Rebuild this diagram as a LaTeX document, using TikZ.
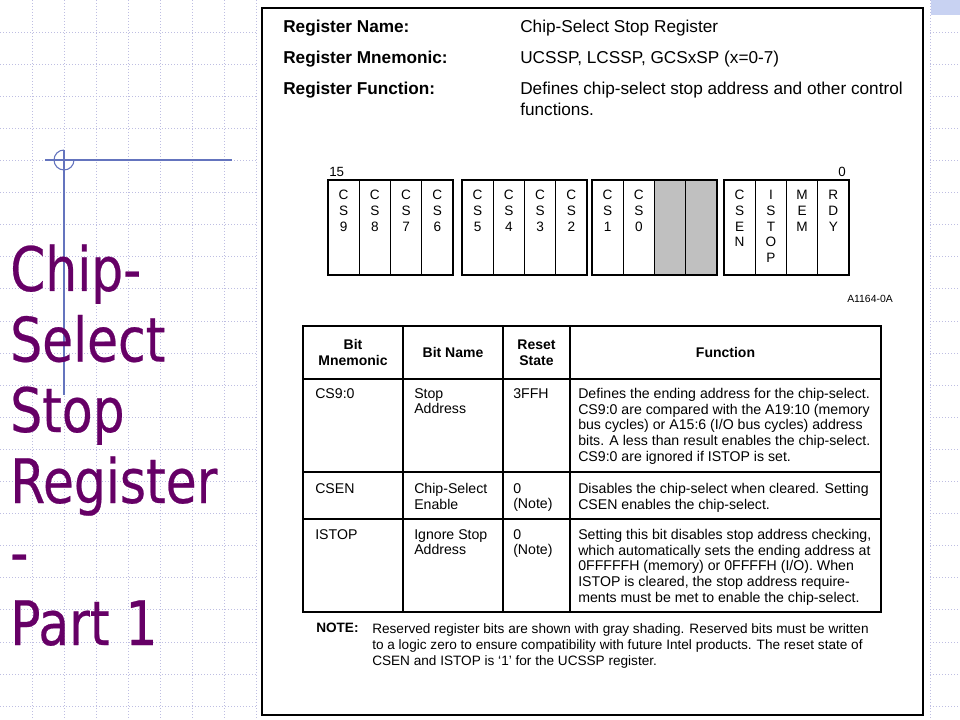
\documentclass[tikz,border=0pt]{standalone}
\usepackage{fontspec}
\setmainfont{Liberation Sans}
\newfontfamily\titlefont[FakeStretch=0.82,FakeBold=0.4]{DejaVu Sans}
\definecolor{gridc}{RGB}{190,190,226}
\definecolor{decob}{RGB}{100,116,190}
\definecolor{titlec}{RGB}{102,0,102}
\definecolor{resv}{RGB}{192,192,192}
\definecolor{patchc}{RGB}{200,210,242}
\begin{document}
\begin{tikzpicture}[x=0.75pt,y=-0.75pt,
  gridline/.style={draw=gridc, line width=0.75pt, dash pattern=on 0.75pt off 1.5pt},
  deco/.style={draw=decob, line width=0.8pt},
  titletxt/.style={font=\titlefont\fontsize{46}{53}\selectfont, text=titlec, anchor=base west, inner sep=0},
  hdrb/.style={font=\bfseries\fontsize{12.9}{15.8}\selectfont, anchor=base west, inner sep=0, align=left},
  hdr/.style={font=\fontsize{12.9}{15.8}\selectfont, anchor=base west, inner sep=0, align=left},
  bitl/.style={font=\fontsize{10.2}{11.8}\selectfont, align=center, anchor=north, inner sep=0},
  small/.style={font=\fontsize{10}{12}\selectfont, inner sep=0},
  grpbox/.style={draw=black, line width=1.5pt},
  celldiv/.style={draw=black, line width=0.9pt},
  tblline/.style={draw=black, line width=1.4pt},
  th/.style={font=\bfseries\fontsize{10.5}{12}\selectfont, align=center, inner sep=0},
  td/.style={font=\fontsize{10.6}{11.8}\selectfont, align=left, anchor=north west, inner sep=0},
  notetxt/.style={font=\fontsize{10.2}{12.2}\selectfont, align=left, anchor=north west, inner sep=0}
]
\useasboundingbox (0,0) rectangle (960,720);
% background grid
\foreach \k in {1,...,29} \draw[gridline] (32.1*\k,0) -- (32.1*\k,720);
\foreach \k in {1,...,22} \draw[gridline] (0,32.1*\k) -- (960,32.1*\k);
% white sheet and corner patch
\fill[white] (258,0) rectangle (930,720);
\fill[patchc] (931,0) rectangle (960,15);
% decoration lines
\draw[deco] (45,160) -- (232,160);
\draw[deco] (64,150) -- (64,395);
\draw[deco] (74,160) arc[start angle=0, end angle=270, radius=10];
% title
\node[titletxt] (t1) at (10,291) {Chip-};
\node[titletxt] (t2) at (10,361.5) {Select};
\node[titletxt] (t3) at (10,432) {Stop};
\node[titletxt] (t4) at (10,503) {Register};
\node[titletxt] (t5) at (10,574) {-};
\node[titletxt] (t6) at (10,645) {Part 1};
% panel
\draw[line width=1.5pt] (262,8) rectangle (923,715);
% header
\node[hdrb] (h1) at (283,33) {Register Name:};
\node[hdrb] (h2) at (283,64) {Register Mnemonic:};
\node[hdrb] (h3) at (283,95) {Register Function:};
\node[hdr] (v1) at (520,33) {Chip-Select Stop Register};
\node[hdr] (v2) at (520,64) {UCSSP, LCSSP, GCSxSP (x=0-7)};
\node[hdr] (v3) at (520,116) {Defines chip-select stop address and other control\\functions.};
% bit field
\fill[resv] (654.5,180) rectangle (716,275);
\foreach \gx in {328,462,592,724} {
  \foreach \j in {1,2,3} \draw[celldiv] (\gx+31.25*\j,180) -- (\gx+31.25*\j,275);
  \draw[grpbox] (\gx,180) rectangle (\gx+125,275);
}
\foreach \cx/\t [count=\i] in {343.6/{C\\S\\9}, 374.9/{C\\S\\8}, 406.1/{C\\S\\7}, 437.4/{C\\S\\6},
  477.6/{C\\S\\5}, 508.9/{C\\S\\4}, 540.1/{C\\S\\3}, 571.4/{C\\S\\2},
  607.6/{C\\S\\1}, 638.9/{C\\S\\0},
  739.6/{C\\S\\E\\N}, 770.9/{I\\S\\T\\O\\P}, 802.1/{M\\E\\M}, 833.4/{R\\D\\Y}}
  \node[bitl] (bit\i) at (\cx,190) {\t};
\node[small, anchor=base west] (b15) at (329,177) {15};
\node[small, anchor=base east] (b0) at (846,177) {0};
\node[font=\fontsize{7.8}{9}\selectfont, inner sep=0, anchor=base east] (fig) at (893,302) {A1164-0A};
% table
\draw[tblline] (303,326) rectangle (881,612);
\foreach \yy in {379,472,519} \draw[tblline] (303,\yy) -- (881,\yy);
\foreach \xx in {403,503,570} \draw[tblline] (\xx,326) -- (\xx,612);
\node[th] (th1) at (353,352.5) {Bit\\Mnemonic};
\node[th] (th2) at (453,352.5) {Bit Name};
\node[th] (th3) at (536.5,352.5) {Reset\\State};
\node[th] (th4) at (725.5,352.5) {Function};
% row 1
\node[td] (r1a) at (315,388) {CS9:0};
\node[td] (r1b) at (414,388) {Stop\\Address};
\node[td] (r1c) at (513,388) {3FFH};
\node[td] (r1d) at (578,388) {Defines the ending address for the chip-select.\\CS9:0 are compared with the A19:10 (memory\\bus cycles) or A15:6 (I/O bus cycles) address\\bits. A less than result enables the chip-select.\\CS9:0 are ignored if ISTOP is set.};
% row 2
\node[td] (r2a) at (315,483) {CSEN};
\node[td] (r2b) at (414,483) {Chip-Select\\Enable};
\node[td] (r2c) at (513,483) {0\\(Note)};
\node[td] (r2d) at (578,483) {Disables the chip-select when cleared. Setting\\CSEN enables the chip-select.};
% row 3
\node[td] (r3a) at (315,529) {ISTOP};
\node[td] (r3b) at (414,529) {Ignore Stop\\Address};
\node[td] (r3c) at (513,529) {0\\(Note)};
\node[td] (r3d) at (578,529) {Setting this bit disables stop address checking,\\which automatically sets the ending address at\\0FFFFFH (memory) or 0FFFFH (I/O). When\\ISTOP is cleared, the stop address require-\\ments must be met to enable the chip-select.};
% note
\node[notetxt, font=\bfseries\fontsize{10.2}{12.2}\selectfont] (nt) at (316,623) {NOTE:};
\node[notetxt] (nb) at (372,623) {Reserved register bits are shown with gray shading. Reserved bits must be written\\to a logic zero to ensure compatibility with future Intel products. The reset state of\\CSEN and ISTOP is ‘1’ for the UCSSP register.};
\end{tikzpicture}
\end{document}
